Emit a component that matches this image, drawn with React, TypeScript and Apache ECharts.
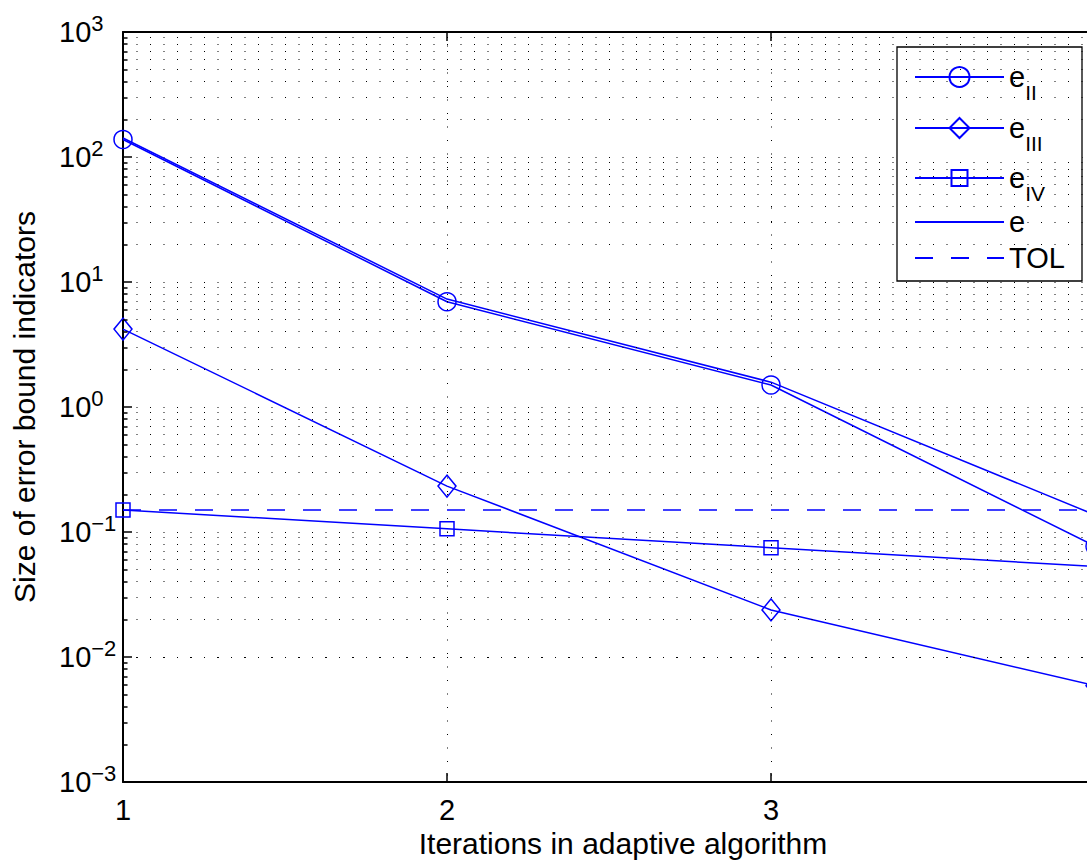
import { useEffect, useRef } from "react";
import * as echarts from "echarts";

const xValues = [1, 2, 3, 4];
const xTickLabels = ["1", "2", "3", ""];
const eII = [138, 6.95, 1.5, 0.077];
const eIII = [4.2, 0.233, 0.0238, 0.0059];
const eIV = [0.15, 0.106, 0.0749, 0.053];
const eTotal = [142, 7.3, 1.58, 0.137];
const tol = [0.15, 0.15, 0.15, 0.15];
const yTickValues = [0.001, 0.01, 0.1, 1, 10, 100, 1000];
const yTickExponents = ["\u22123", "\u22122", "\u22121", "0", "1", "2", "3"];
const decades = [0.001, 0.01, 0.1, 1, 10, 100];
const minorMultipliers = [2, 3, 4, 5, 6, 7, 8, 9];
const seriesNames = ["eII", "eIII", "eIV", "e", "TOL"];
const legendBase = ["e", "e", "e", "e", "TOL"];
const legendSub = ["II", "III", "IV", "", ""];
const legendRowY = [77, 128, 178, 222, 258];
const legendIconH = [25, 25, 20, 25, 25];

const FONT = "'Liberation Sans', Arial, Helvetica, sans-serif";
const BLUE = "#0000ff";

const minorValues = decades.flatMap((d) =>
  minorMultipliers.map((m) => Number((d * m).toPrecision(3)))
);

const pairs = (arr: number[]) => xValues.map((x, i) => [x, arr[i]]);

export default function App() {
  const ref = useRef<HTMLDivElement>(null);
  useEffect(() => {
    if (!ref.current) return;
    const chart = echarts.init(ref.current, null, { renderer: "svg" });
    const lineBase = {
      type: "line" as const,
      lineStyle: { color: BLUE, width: 1.5 },
      itemStyle: { color: "rgba(0,0,0,0)", borderColor: BLUE, borderWidth: 1.5 },
      color: BLUE,
      showSymbol: true,
      emphasis: { disabled: true },
      z: 3,
    };
    const noMarkerStyle = { color: "rgba(0,0,0,0)", borderColor: "rgba(0,0,0,0)", borderWidth: 0 };
    const legends = seriesNames.map((name, i) => ({
      data: [name],
      orient: "vertical",
      left: 914,
      top: legendRowY[i] - 14.5,
      padding: 0,
      itemWidth: 89,
      itemHeight: legendIconH[i],
      itemGap: 0,
      itemTextGap: 11,
      selectedMode: false,
      z: 10,
      formatter: (n: string) => {
        const k = seriesNames.indexOf(n);
        if (legendSub[k]) return `{b|${legendBase[k]}}{s|${legendSub[k]}}`;
        return `{c|${legendBase[k]}}`;
      },
      textStyle: {
        fontFamily: FONT,
        fontSize: 29,
        color: "#000",
        rich: {
          b: { fontFamily: FONT, fontSize: 29, color: "#000", lineHeight: 51, verticalAlign: "middle" },
          s: { fontFamily: FONT, fontSize: 21, color: "#000", lineHeight: 22, verticalAlign: "bottom" },
          c: { fontFamily: FONT, fontSize: 29, color: "#000", lineHeight: 30 },
        },
      },
    }));
    const option: any = {
      animation: false,
      backgroundColor: "#ffffff",
      textStyle: { fontFamily: FONT, color: "#000" },
      grid: {
        left: 123,
        top: 32,
        right: 5,
        bottom: 81,
        containLabel: false,
        outerBoundsMode: "none",
      },
      graphic: [
        {
          type: "rect",
          z: 5,
          silent: true,
          shape: { x: 897, y: 47, width: 185, height: 234 },
          style: { fill: "#ffffff", stroke: "#000", lineWidth: 1.3 },
        },
      ],
      legend: legends,
      xAxis: [
        {
          type: "value",
          min: 1,
          max: 4,
          interval: 1,
          position: "bottom",
          name: "Iterations in adaptive algorithm",
          nameLocation: "middle",
          nameGap: 38,
          nameTextStyle: { fontFamily: FONT, fontSize: 30, color: "#000", padding: [0, 0, 0, 28] },
          axisLine: { show: true, onZero: false, lineStyle: { color: "#000", width: 2 } },
          axisTick: { show: true, inside: true, length: 9, lineStyle: { color: "#000", width: 1.5 } },
          axisLabel: {
            margin: 13,
            fontFamily: FONT,
            fontSize: 29,
            color: "#000",
            formatter: (v: number) => {
              const i = xValues.indexOf(Math.round(v));
              return i >= 0 ? xTickLabels[i] : "";
            },
          },
          splitLine: { show: true, lineStyle: { color: "#000", width: 1, type: [1, 12.5] } },
        },
        {
          type: "value",
          min: 1,
          max: 4,
          interval: 1,
          position: "top",
          axisLine: { show: true, onZero: false, lineStyle: { color: "#000", width: 2 } },
          axisTick: { show: true, inside: true, length: 9, lineStyle: { color: "#000", width: 1.5 } },
          axisLabel: { show: false },
          splitLine: { show: false },
        },
      ],
      yAxis: {
        type: "log",
        logBase: 10,
        min: 0.001,
        max: 1000,
        splitNumber: 6,
        name: "Size of error bound indicators",
        nameLocation: "middle",
        nameRotate: 90,
        nameGap: 84,
        nameTextStyle: { fontFamily: FONT, fontSize: 30, color: "#000" },
        axisLine: { show: true, onZero: false, lineStyle: { color: "#000", width: 2 } },
        axisTick: { show: true, inside: true, length: 9, lineStyle: { color: "#000", width: 1.5 } },
        axisLabel: {
          align: "left",
          margin: 64,
          formatter: (v: number) => {
            const i = yTickValues.findIndex((t) => Math.abs(Math.log10(t) - Math.log10(v)) < 1e-6);
            if (i < 0) return "";
            return `{b|10}{s|${yTickExponents[i]}}`;
          },
          rich: {
            b: { fontFamily: FONT, fontSize: 29, color: "#000", lineHeight: 40, verticalAlign: "middle" },
            s: { fontFamily: FONT, fontSize: 22, color: "#000", lineHeight: 22, verticalAlign: "top" },
          },
        },
        splitLine: { show: true, lineStyle: { color: "#000", width: 1, type: [1, 12.5] } },
      },
      series: [
        {
          type: "line",
          name: "_minorGrid",
          data: [],
          silent: true,
          z: 1,
          markLine: {
            silent: true,
            animation: false,
            symbol: ["none", "none"],
            label: { show: false },
            emphasis: { disabled: true },
            lineStyle: { color: "#000", width: 1, type: [1, 12.5] },
            data: minorValues.map((v) => ({ yAxis: v })),
          },
        },
        {
          type: "line",
          name: "_minorTicks",
          data: [],
          silent: true,
          z: 2,
          markLine: {
            silent: true,
            animation: false,
            symbol: ["none", "none"],
            label: { show: false },
            emphasis: { disabled: true },
            lineStyle: { color: "#000", width: 1.5, type: "solid" },
            data: minorValues.map((v) => [{ coord: [1, v] }, { coord: [1.014, v] }]),
          },
        },
        { ...lineBase, name: "eII", data: pairs(eII), symbol: "circle", symbolSize: 18 },
        { ...lineBase, name: "eIII", data: pairs(eIII), symbol: "diamond", symbolSize: [18, 22] },
        { ...lineBase, name: "eIV", data: pairs(eIV), symbol: "rect", symbolSize: 14 },
        { ...lineBase, name: "e", data: pairs(eTotal), symbol: "none", itemStyle: noMarkerStyle },
        {
          ...lineBase,
          name: "TOL",
          data: pairs(tol),
          symbol: "none",
          itemStyle: noMarkerStyle,
          lineStyle: { color: BLUE, width: 1.5, type: [18, 18] },
        },
      ],
    };
    chart.setOption(option);
    return () => chart.dispose();
  }, []);
  return (
    <div
      style={{
        position: "fixed",
        left: 0,
        top: 0,
        width: 1087,
        height: 863,
        overflow: "hidden",
        background: "#fff",
      }}
    >
      <div ref={ref} style={{ width: 1100, height: 863 }} />
    </div>
  );
}
